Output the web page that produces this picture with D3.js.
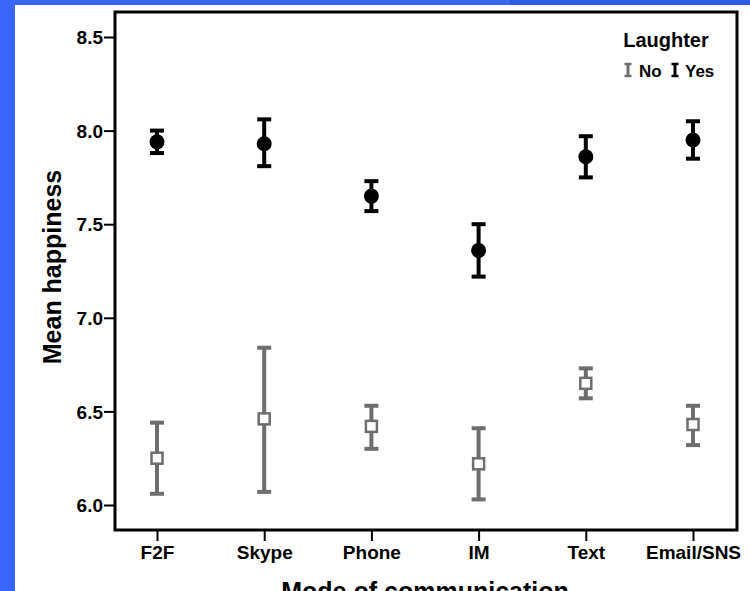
<!DOCTYPE html>
<html>
<head>
<meta charset="utf-8">
<script src="https://cdn.jsdelivr.net/npm/d3@7"></script>
<style>
  html, body { margin: 0; padding: 0; background: #3a66fb; }
  svg { display: block; }
  text { font-family: "Liberation Sans Narrow", "Liberation Sans", Arial, sans-serif; font-weight: bold; }
</style>
</head>
<body>
<script>
// modes of communication
var categories = ["F2F", "Skype", "Phone", "IM", "Text", "Email/SNS"];

// mean happiness with 95% CI, laughter = Yes
var yesMean  = [7.94, 7.93, 7.65, 7.36, 7.86, 7.95];
var yesLow   = [7.88, 7.81, 7.57, 7.22, 7.75, 7.85];
var yesHigh  = [8.00, 8.06, 7.73, 7.50, 7.97, 8.05];

// laughter = No
var noMean   = [6.25, 6.46, 6.42, 6.22, 6.65, 6.43];
var noLow    = [6.06, 6.07, 6.30, 6.03, 6.57, 6.32];
var noHigh   = [6.44, 6.84, 6.53, 6.41, 6.73, 6.53];

var yTicks = [6.0, 6.5, 7.0, 7.5, 8.0, 8.5];

var W = 750, H = 591;
var frame = {left: 115, right: 737, top: 12, bottom: 530};

var svg = d3.select("body").append("svg")
            .attr("width", W)
            .attr("height", H);

// blue slide background with white panel
svg.append("rect").attr("x", 0).attr("y", 0).attr("width", W).attr("height", H).attr("fill", "#3a66fb");
svg.append("rect").attr("x", 510).attr("y", 0).attr("width", W - 510).attr("height", 6).attr("fill", "#2f5ce6");
svg.append("rect").attr("x", 15).attr("y", 5).attr("width", W - 15).attr("height", H - 5).attr("fill", "#ffffff");

var x = d3.scalePoint()
          .domain(categories)
          .range([157, 693]);

var y = d3.scaleLinear()
          .domain([6.0, 8.5])
          .range([505, 37]);

// y axis
var yAxis = svg.append("g")
               .attr("transform", "translate(" + frame.left + ",0)")
               .call(d3.axisLeft(y).tickValues(yTicks).tickFormat(d3.format(".1f")).tickSize(11).tickPadding(1));
yAxis.select(".domain").remove();
yAxis.selectAll(".tick line").attr("stroke", "#000").attr("stroke-width", 2);
yAxis.selectAll(".tick text").attr("font-size", 19).attr("fill", "#000").attr("dy", "0.35em");

// x axis
var xAxis = svg.append("g")
               .attr("transform", "translate(0," + frame.bottom + ")")
               .call(d3.axisBottom(x).tickSize(11).tickPadding(5));
xAxis.select(".domain").remove();
xAxis.selectAll(".tick line").attr("stroke", "#000").attr("stroke-width", 2);
xAxis.selectAll(".tick text").attr("font-size", 19).attr("fill", "#000");

// frame
svg.append("rect")
   .attr("x", frame.left).attr("y", frame.top)
   .attr("width", frame.right - frame.left).attr("height", frame.bottom - frame.top)
   .attr("fill", "none").attr("stroke", "#000").attr("stroke-width", 3);

// axis titles
svg.append("text")
   .attr("transform", "translate(61," + ((frame.top + frame.bottom) / 2 - 4) + ") rotate(-90)")
   .attr("text-anchor", "middle")
   .attr("font-size", 25)
   .text("Mean happiness");

svg.append("text")
   .attr("x", 425).attr("y", 600)
   .attr("text-anchor", "middle")
   .attr("font-size", 25)
   .text("Mode of communication");

function drawBars(cls, mean, low, high, color) {
  var g = svg.append("g").attr("class", cls);
  categories.forEach(function (c, i) {
    var cx = x(c);
    g.append("line")
     .attr("x1", cx).attr("x2", cx)
     .attr("y1", y(low[i])).attr("y2", y(high[i]))
     .attr("stroke", color).attr("stroke-width", 4);
    [low[i], high[i]].forEach(function (v) {
      g.append("line")
       .attr("x1", cx - 7).attr("x2", cx + 7)
       .attr("y1", y(v)).attr("y2", y(v))
       .attr("stroke", color).attr("stroke-width", 4);
    });
  });
  return g;
}

var noG = drawBars("no", noMean, noLow, noHigh, "#6e6e6e");
noG.selectAll("rect.pt")
   .data(noMean)
   .enter().append("rect")
   .attr("class", "pt")
   .attr("x", function (d, i) { return x(categories[i]) - 5.5; })
   .attr("y", function (d) { return y(d) - 5.5; })
   .attr("width", 11).attr("height", 11)
   .attr("fill", "#fff").attr("stroke", "#6e6e6e").attr("stroke-width", 2.5);

var yesG = drawBars("yes", yesMean, yesLow, yesHigh, "#000");
yesG.selectAll("circle")
    .data(yesMean)
    .enter().append("circle")
    .attr("cx", function (d, i) { return x(categories[i]); })
    .attr("cy", function (d) { return y(d); })
    .attr("r", 7.5)
    .attr("fill", "#000");

// legend
var lg = svg.append("g");
lg.append("text").attr("x", 666).attr("y", 47).attr("text-anchor", "middle").attr("font-size", 20).text("Laughter");

function legendIcon(cx, color) {
  lg.append("line").attr("x1", cx).attr("x2", cx).attr("y1", 64).attr("y2", 76).attr("stroke", color).attr("stroke-width", 3);
  lg.append("line").attr("x1", cx - 3.5).attr("x2", cx + 3.5).attr("y1", 64).attr("y2", 64).attr("stroke", color).attr("stroke-width", 2.5);
  lg.append("line").attr("x1", cx - 3.5).attr("x2", cx + 3.5).attr("y1", 76).attr("y2", 76).attr("stroke", color).attr("stroke-width", 2.5);
}
legendIcon(628, "#6e6e6e");
lg.append("text").attr("x", 639).attr("y", 77).attr("font-size", 17).text("No");
legendIcon(675, "#000");
lg.append("text").attr("x", 685).attr("y", 77).attr("font-size", 17).text("Yes");
</script>
</body>
</html>
